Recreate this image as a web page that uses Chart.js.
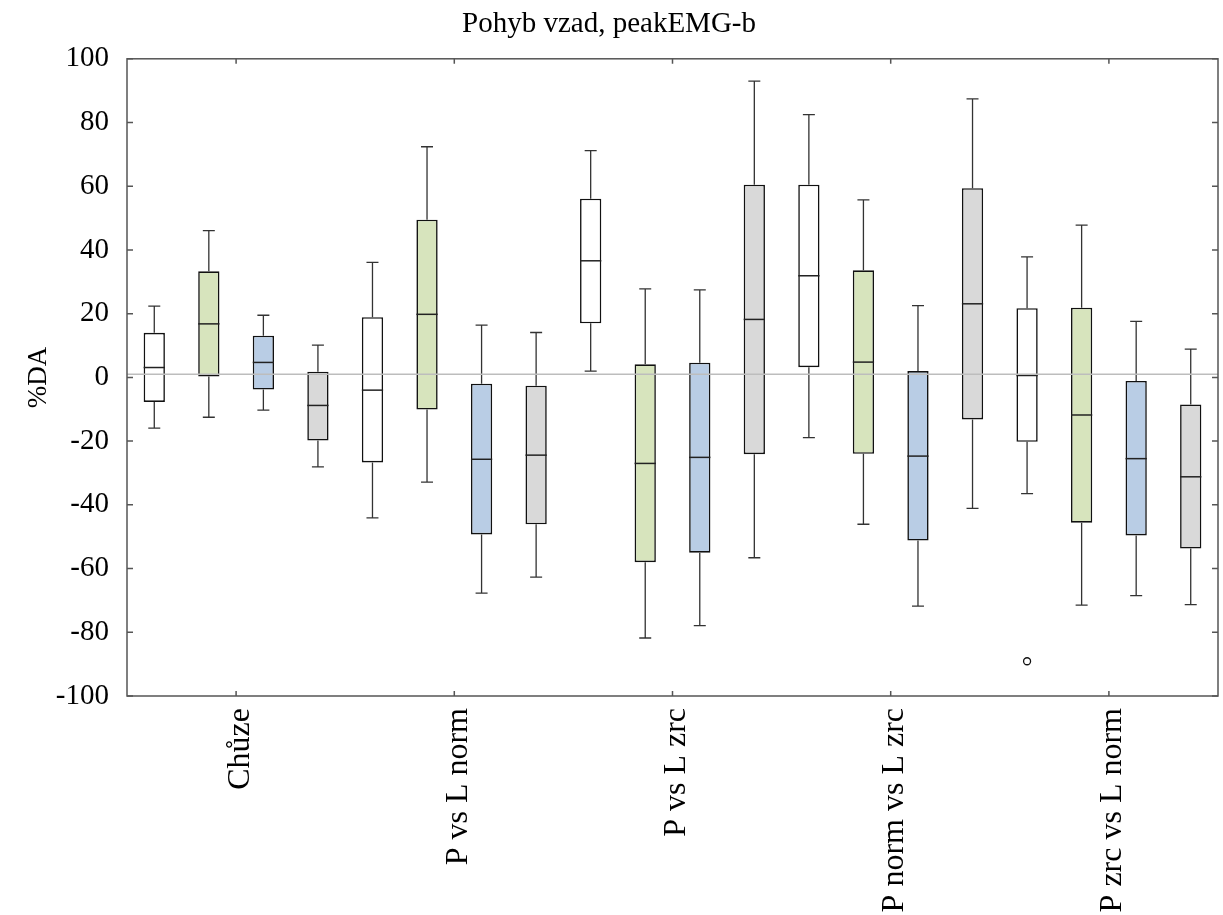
<!DOCTYPE html>
<html>
<head>
<meta charset="utf-8">
<title>Pohyb vzad, peakEMG-b</title>
<script src="https://cdn.jsdelivr.net/npm/chart.js@4.4.1/dist/chart.umd.min.js"></script>
<style>
html,body{margin:0;padding:0;background:#fff;}
#wrap{width:1223px;height:915px;position:relative;}
</style>
</head>
<body>
<div id="wrap"><canvas id="boxchart"></canvas></div>
<script>
var categories=['Chůze','P vs L norm','P vs L zrc','P norm vs L zrc','P zrc vs L norm'];

// each entry is [min, q1, median, q3, max]
var boxWhite=[[-15.9,-7.7,3.1,14.0,22.4],[-44.1,-26.7,-4.0,18.9,36.1],[2.0,17.0,36.6,56.1,71.2],[-18.9,3.2,31.9,60.5,82.5],[-36.5,-20.2,0.6,21.7,37.8]];
var boxGreen=[[-12.5,0.3,16.8,33.3,46.1],[-32.9,-10.1,19.8,49.5,72.4],[-81.8,-58.0,-27.0,4.1,27.8],[-46.1,-24.0,4.8,33.6,55.7],[-71.5,-45.6,-11.8,21.9,47.8]];
var boxBlue=[[-10.3,-3.8,4.7,13.1,19.5],[-67.7,-49.3,-25.7,-2.0,16.4],[-77.9,-55.0,-25.1,4.6,27.5],[-71.8,-51.2,-24.7,2.0,22.5],[-68.5,-49.6,-25.5,-1.1,17.6]];
var boxGray=[[-28.1,-19.8,-8.8,1.8,10.1],[-62.7,-46.1,-24.4,-2.6,14.1],[-56.6,-24.1,18.2,60.5,93.0],[-41.1,-13.2,23.1,59.4,87.4],[-71.3,-53.7,-31.2,-8.5,8.9]];
var boxColors=['#ffffff','#d7e4bd','#b9cde5','#d9d9d9'];

// outliers: category index, series index, value
var outlierCat=[4];
var outlierSeries=[0];
var outlierValue=[-89.1];

var refValue=1;

var allBoxes=[boxWhite,boxGreen,boxBlue,boxGray];
var fontFam='"Liberation Serif","Times New Roman",serif';

var datasets=[];
for(var i=0;i<allBoxes.length;i++){
  var rng=[];
  for(var j=0;j<allBoxes[i].length;j++){
    rng.push([allBoxes[i][j][1],allBoxes[i][j][3]]);
  }
  datasets.push({
    data:rng,
    backgroundColor:boxColors[i],
    borderColor:'#111',
    borderWidth:1.6,
    borderSkipped:false,
    categoryPercentage:1.0,
    barPercentage:0.39
  });
}

var boxExtras={
  id:'boxExtras',
  afterDatasetsDraw:function(chart){
    var ctx=chart.ctx;
    var ys=chart.scales.y, xs=chart.scales.x;
    var area=chart.chartArea;
    ctx.save();
    for(var i=0;i<allBoxes.length;i++){
      var meta=chart.getDatasetMeta(i);
      for(var j=0;j<meta.data.length;j++){
        var bar=meta.data[j];
        var b=allBoxes[i][j];
        var x=bar.x, hw=bar.width/2;
        var pMin=ys.getPixelForValue(b[0]);
        var pQ1=ys.getPixelForValue(b[1]);
        var pMed=ys.getPixelForValue(b[2]);
        var pQ3=ys.getPixelForValue(b[3]);
        var pMax=ys.getPixelForValue(b[4]);
        ctx.strokeStyle='#333';
        ctx.lineWidth=1.3;
        ctx.beginPath();
        ctx.moveTo(x,pQ3);ctx.lineTo(x,pMax);
        ctx.moveTo(x-6,pMax);ctx.lineTo(x+6,pMax);
        ctx.moveTo(x,pQ1);ctx.lineTo(x,pMin);
        ctx.moveTo(x-6,pMin);ctx.lineTo(x+6,pMin);
        ctx.stroke();
        ctx.strokeStyle='#222';
        ctx.lineWidth=1.5;
        ctx.beginPath();
        ctx.moveTo(x-hw,pMed);ctx.lineTo(x+hw,pMed);
        ctx.stroke();
      }
    }

    // reference line
    var pr=ys.getPixelForValue(refValue);
    ctx.strokeStyle='#bdbdbd';
    ctx.lineWidth=1.5;
    ctx.beginPath();
    ctx.moveTo(area.left,pr);ctx.lineTo(area.right,pr);
    ctx.stroke();

    // outliers
    for(var k=0;k<outlierValue.length;k++){
      var el=chart.getDatasetMeta(outlierSeries[k]).data[outlierCat[k]];
      ctx.beginPath();
      ctx.arc(el.x,ys.getPixelForValue(outlierValue[k]),3.5,0,Math.PI*2);
      ctx.fillStyle='#fff';
      ctx.fill();
      ctx.strokeStyle='#111';
      ctx.lineWidth=1.3;
      ctx.stroke();
    }

    // frame and inward ticks
    ctx.strokeStyle='#555';
    ctx.lineWidth=1.5;
    ctx.strokeRect(area.left,area.top,area.right-area.left,area.bottom-area.top);
    ctx.beginPath();
    for(var t=0;t<ys.ticks.length;t++){
      var py=ys.getPixelForValue(ys.ticks[t].value);
      ctx.moveTo(area.left,py);ctx.lineTo(area.left+6,py);
      ctx.moveTo(area.right,py);ctx.lineTo(area.right-6,py);
    }
    for(var c=0;c<categories.length;c++){
      var px=xs.getPixelForTick(c);
      ctx.moveTo(px,area.top);ctx.lineTo(px,area.top+5);
      ctx.moveTo(px,area.bottom);ctx.lineTo(px,area.bottom-5);
    }
    ctx.stroke();
    ctx.restore();
  }
};

var chart=new Chart(document.getElementById('boxchart'),{
  type:'bar',
  data:{labels:categories,datasets:datasets},
  options:{
    responsive:true,
    maintainAspectRatio:false,
    animation:false,
    layout:{padding:{left:0,right:5,top:0,bottom:0}},
    plugins:{
      legend:{display:false},
      tooltip:{enabled:false},
      title:{
        display:true,
        text:'Pohyb vzad, peakEMG-b',
        color:'#000',
        font:{family:fontFam,size:29,weight:'normal'},
        padding:{top:7,bottom:17}
      }
    },
    scales:{
      x:{
        grid:{display:false},
        border:{display:false},
        ticks:{
          color:'#000',
          font:{family:fontFam,size:32},
          minRotation:90,
          maxRotation:90,
          autoSkip:false,
          labelOffset:4,
          padding:4
        },
        afterFit:function(scale){scale.height=219;}
      },
      y:{
        min:-100,
        max:100,
        grid:{display:false},
        border:{display:false},
        ticks:{
          stepSize:20,
          color:'#000',
          font:{family:fontFam,size:29},
          padding:10
        },
        title:{
          display:true,
          text:'%DA',
          color:'#000',
          font:{family:fontFam,size:27},
          padding:{top:23,bottom:0}
        },
        afterFit:function(scale){scale.width=127;}
      }
    }
  },
  plugins:[boxExtras]
});
</script>
</body>
</html>
